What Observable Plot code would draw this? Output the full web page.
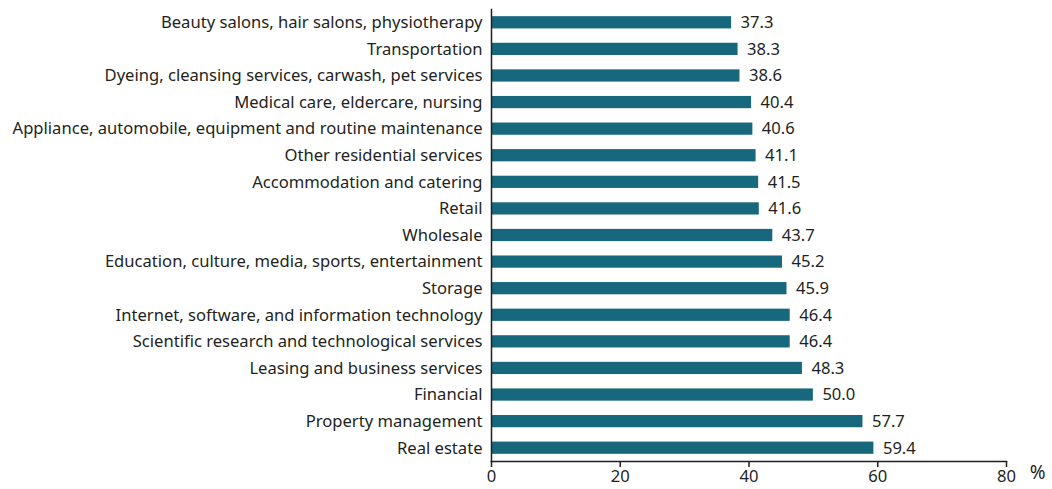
<!DOCTYPE html>
<html><head><meta charset="utf-8">
<script src="https://cdn.jsdelivr.net/npm/d3@7"></script>
<script src="https://cdn.jsdelivr.net/npm/@observablehq/plot@0.6"></script>
<style>body{margin:0;background:#fff;} #chart svg{font-family:"Noto Sans", sans-serif;}</style>
</head><body><div id="chart"></div>
<script>
const categories = ["Beauty salons, hair salons, physiotherapy","Transportation","Dyeing, cleansing services, carwash, pet services","Medical care, eldercare, nursing","Appliance, automobile, equipment and routine maintenance","Other residential services","Accommodation and catering","Retail","Wholesale","Education, culture, media, sports, entertainment","Storage","Internet, software, and information technology","Scientific research and technological services","Leasing and business services","Financial","Property management","Real estate"];
const values = [37.3,38.3,38.6,40.4,40.6,41.1,41.5,41.6,43.7,45.2,45.9,46.4,46.4,48.3,50.0,57.7,59.4];
const xTicks = [0,20,40,60,80];
const data = categories.map((c,i)=>({category:c,value:values[i]}));
const color = "#17677d";
const fs = 16.6;
const chart = Plot.plot({
  width:1052, height:489,
  marginLeft:491, marginRight:46, marginTop:9, marginBottom:28,
  style:{fontSize:fs+"px", color:"#231f20", fontFamily:"'Noto Sans', sans-serif"},
  x:{domain:[0,80], ticks:xTicks, label:null},
  y:{domain:categories, paddingInner:0.54, paddingOuter:0.27, round:false, label:null},
  marks:[
    Plot.barX(data,{x:"value", y:"category", fill:color}),
    Plot.text(data,{x:"value", y:"category", text:d=>d.value.toFixed(1), textAnchor:"start", dx:9, fill:"#231f20", fontSize:fs}),
    Plot.axisY({tickSize:0, tickPadding:9, fontSize:fs}),
    Plot.axisX({ticks:xTicks, tickSize:6, tickPadding:3, fontSize:fs, stroke:"#231f20", strokeWidth:1.5}),
    Plot.frame({anchor:"left", stroke:"#231f20", strokeWidth:1.5}),
    Plot.frame({anchor:"bottom", stroke:"#231f20", strokeWidth:1.5}),
    Plot.text(["%"],{frameAnchor:"bottom-right", dx:39, dy:17, fontSize:19, fill:"#231f20"})
  ]
});
document.getElementById("chart").append(chart);
</script></body></html>
